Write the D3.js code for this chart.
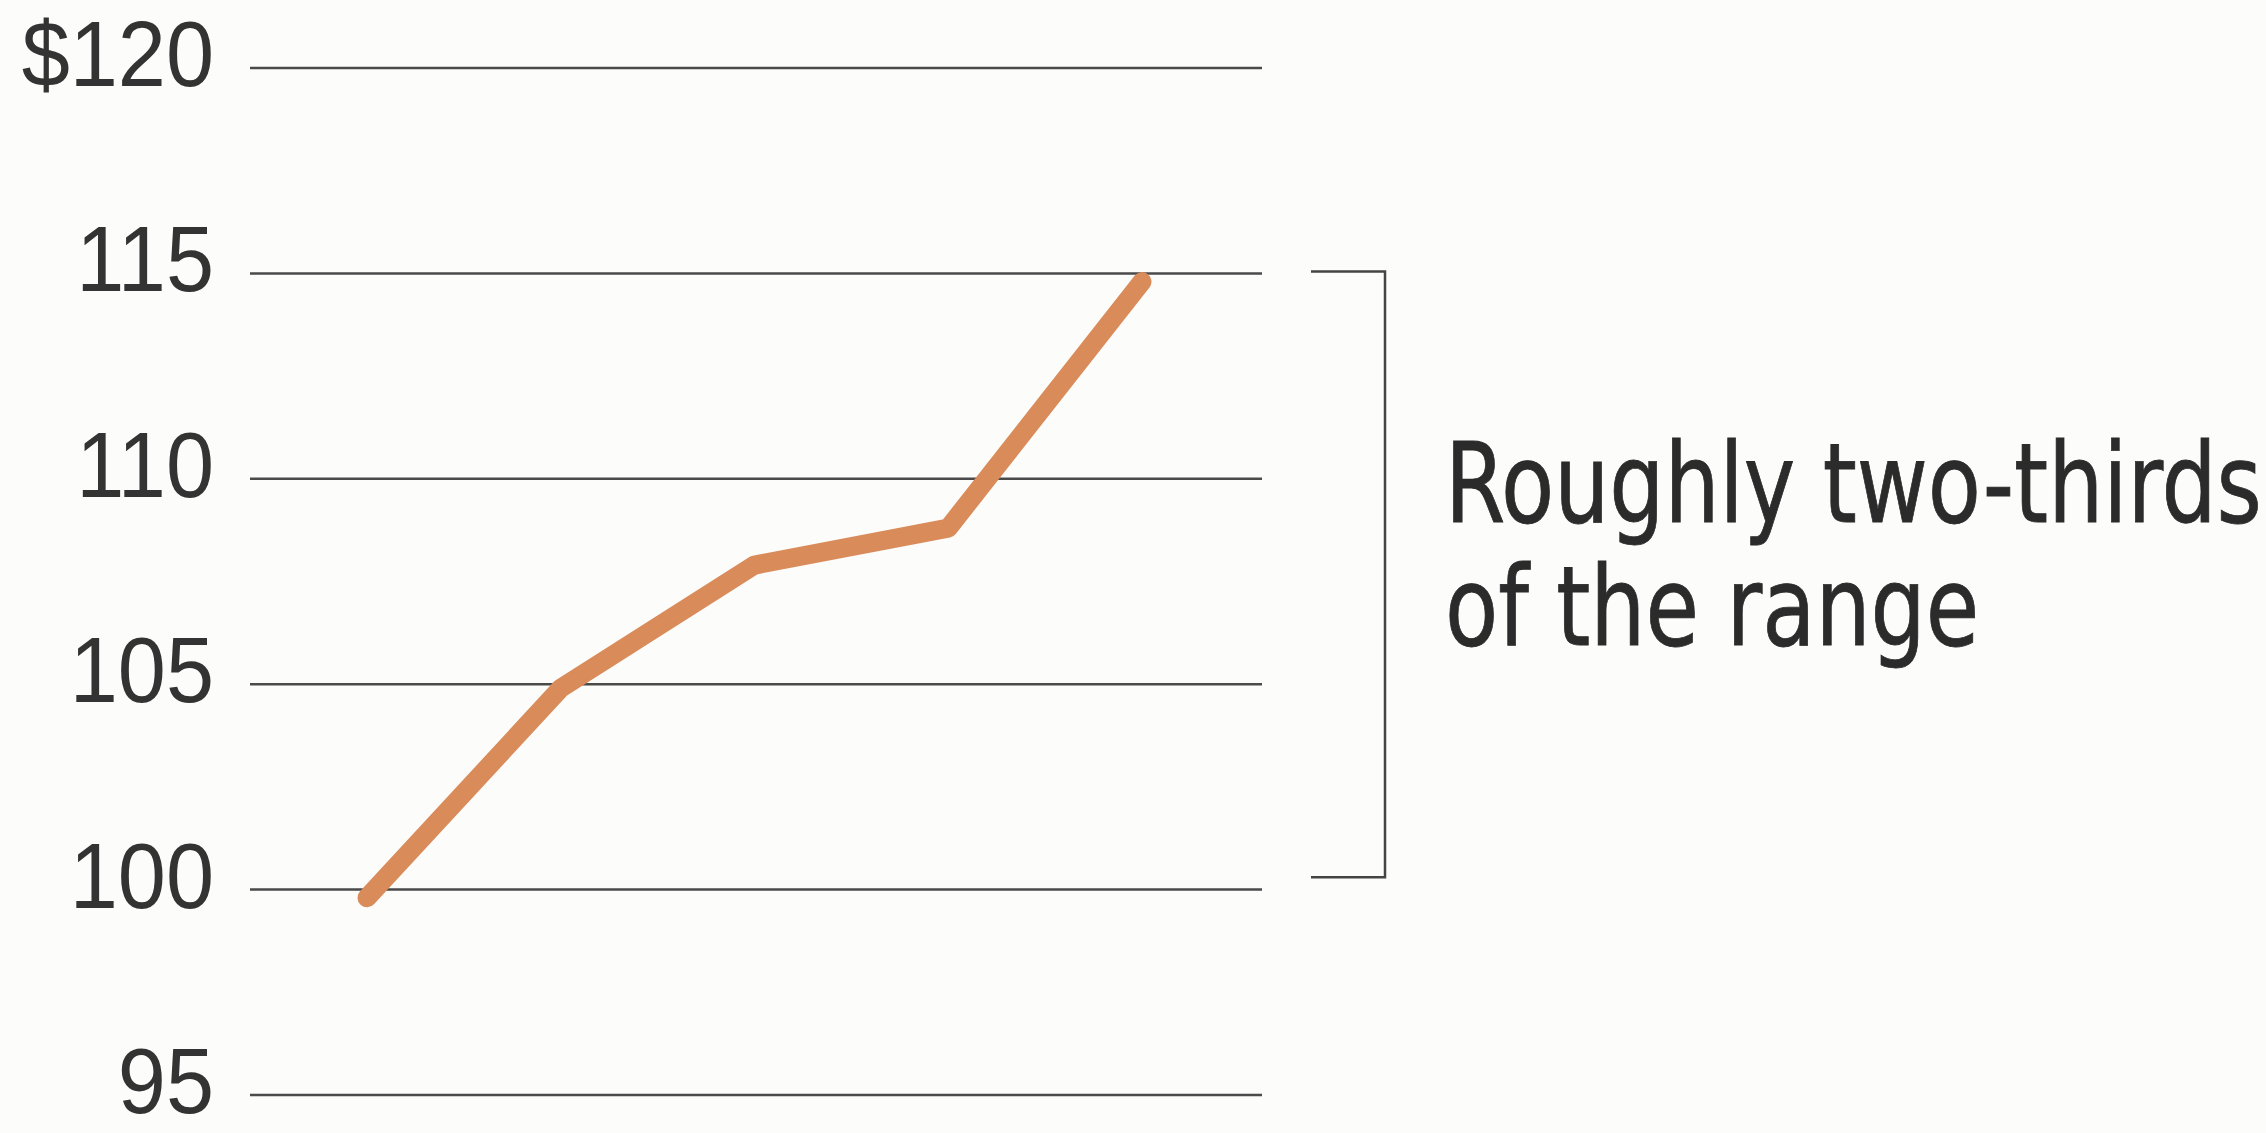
<!DOCTYPE html>
<html>
<head>
<meta charset="utf-8">
<script src="https://cdn.jsdelivr.net/npm/d3@7"></script>
<style>
  html, body { margin: 0; padding: 0; background: #fcfcfa; }
  svg { display: block; }
</style>
</head>
<body>
<div id="chart"></div>
<script>
// data
var periods = [1, 2, 3, 4, 5];
var prices = [99.8, 104.9, 107.9, 108.8, 114.8];
var yTicks = [95, 100, 105, 110, 115, 120];
var tickLabels = ["95", "100", "105", "110", "115", "$120"];
var bracketRange = [100.3, 115];
var noteLines = ["Roughly two-thirds", "of the range"];

var width = 2266, height = 1133;

var svg = d3.select("#chart")
    .append("svg")
    .attr("width", width)
    .attr("height", height)

var x = d3.scalePoint()
    .domain(periods)
    .range([367, 1142])

var y = d3.scaleLinear()
    .domain([95, 120])
    .range([1095, 68])

// gridlines
svg.selectAll(".grid")
    .data(yTicks).enter().append("line")
    .attr("class", "grid")
    .attr("x1", 250)
    .attr("x2", 1262)
    .attr("y1", function(d){ return y(d); })
    .attr("y2", function(d){ return y(d); })
    .attr("stroke", "#4a4a4a")
    .attr("stroke-width", 2.5)

// tick labels
var yAxis = d3.axisLeft(y)
    .tickValues(yTicks)
    .tickSize(0)
    .tickPadding(0)
    .tickFormat(function(d, i){ return tickLabels[i]; })

var axisG = svg.append("g")
    .attr("transform", "translate(214,0)")
    .call(yAxis)
axisG.select(".domain").remove()
axisG.selectAll("text")
    .attr("dy", "0.19em")
    .attr("fill", "#333")
    .attr("transform", "scale(0.94,1)")
    .style("font-family", "'Liberation Sans', Arial, sans-serif")
    .style("font-size", "92px")

// the price line
var line = d3.line()
    .x(function(d, i){ return x(periods[i]); })
    .y(function(d){ return y(d); })

svg.append("path")
    .datum(prices)
    .attr("d", line)
    .attr("fill", "none")
    .attr("stroke", "#d98b5a")
    .attr("stroke-width", 19)
    .attr("stroke-linecap", "round")
    .attr("stroke-linejoin", "round")

// bracket
var bx = 1385, bl = 1311;
svg.append("path")
    .attr("d", "M" + bl + "," + (y(bracketRange[1]) - 2) +
               "H" + bx + "V" + y(bracketRange[0]) + "H" + bl)
    .attr("fill", "none")
    .attr("stroke", "#444")
    .attr("stroke-width", 2.5)

// annotation
var note = svg.append("g")
var noteText = note.selectAll("text")
    .data(noteLines).enter().append("text")
    .attr("x", 0)
    .attr("y", function(d, i){ return i * 123; })
    .attr("fill", "#2b2b2b")
    .attr("stroke", "#2b2b2b")
    .attr("stroke-width", 0.8)
    .style("font-family", "'Liberation Sans Narrow', 'DejaVu Sans Condensed', 'Liberation Sans', sans-serif")
    .style("font-size", "110px")
    .text(function(d){ return d; })

var w = noteText.node().getComputedTextLength();
var k = 817 / w;
note.attr("transform", "translate(1445,522) scale(" + k + ",1)")
</script>
</body>
</html>
